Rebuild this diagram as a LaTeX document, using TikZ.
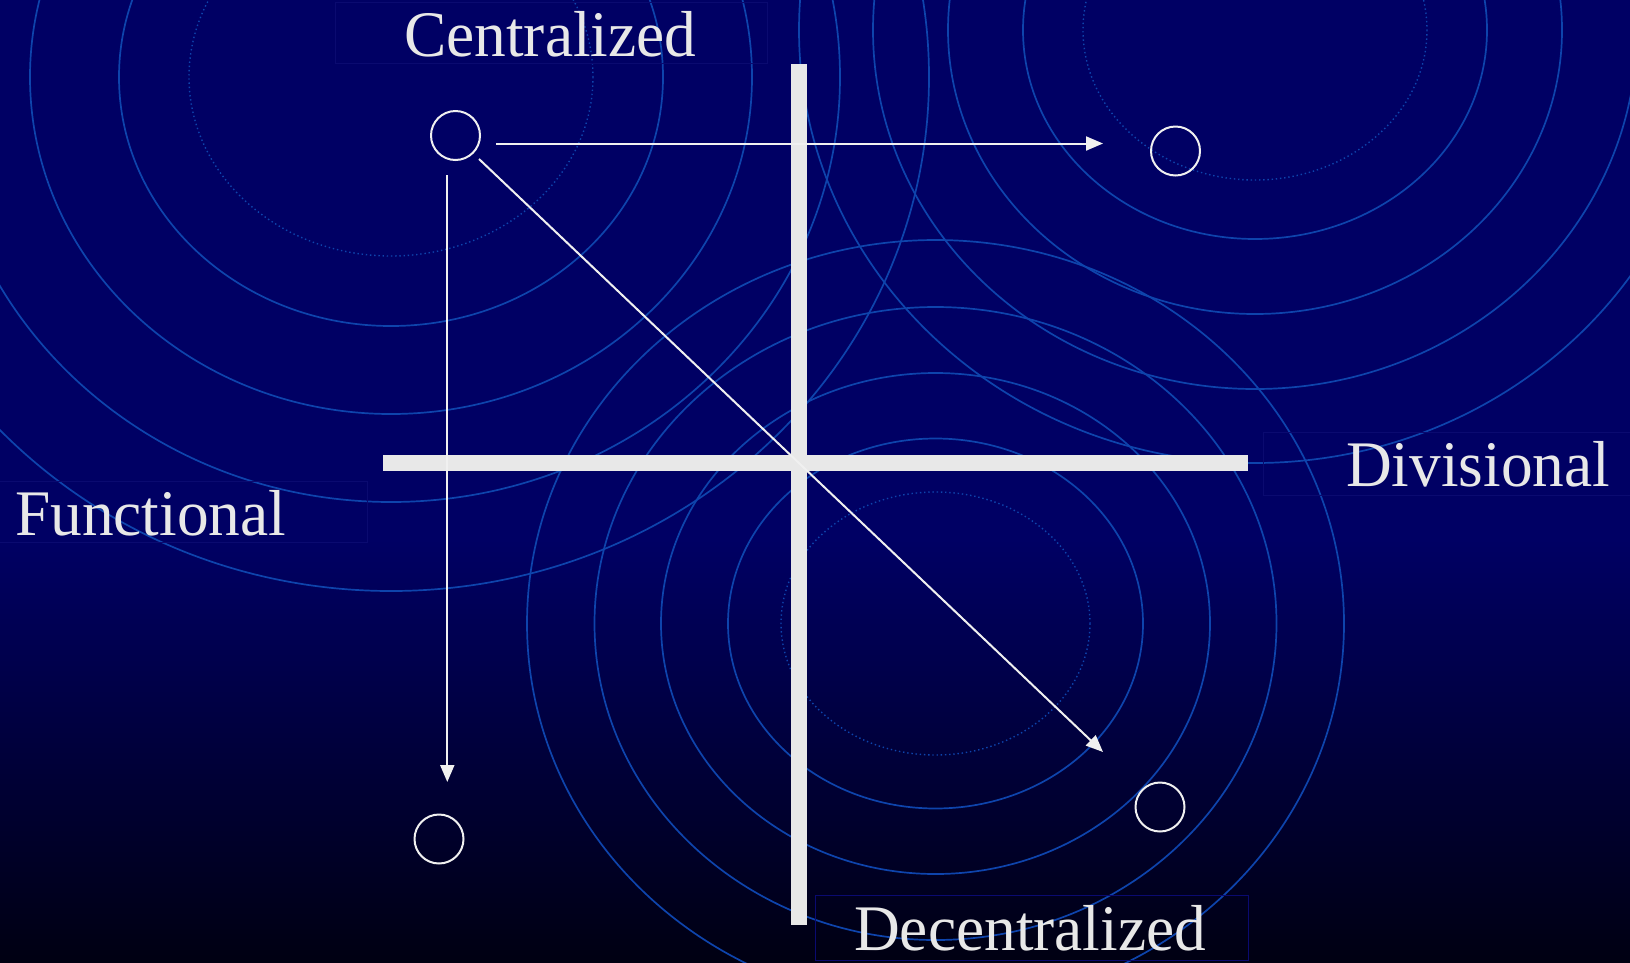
\documentclass[tikz,border=0pt]{standalone}
\usepackage{fontspec}
\setmainfont[FakeStretch=0.975]{Liberation Serif}
\usetikzlibrary{arrows.meta}
\definecolor{bgtop}{RGB}{0,0,100}
\definecolor{bgbot}{RGB}{0,0,18}
\definecolor{ringc}{RGB}{14,68,172}
\definecolor{boxline}{RGB}{10,10,112}
\definecolor{barc}{RGB}{232,232,232}
\definecolor{inkc}{RGB}{240,240,240}
\pgfdeclareverticalshading{slidebg}{100bp}{color(0bp)=(bgbot); color(25bp)=(bgbot); color(47bp)=(bgtop); color(75bp)=(bgtop); color(100bp)=(bgtop)}
\tikzset{
  ringline/.style={draw=ringc, line width=1.7pt},
  ringdot/.style={draw=ringc, line width=1.4pt, dash pattern=on 1.4pt off 2.8pt},
  boxln/.style={draw=boxline, line width=1pt},
  barfill/.style={fill=barc},
  arrowline/.style={draw=inkc, line width=2pt, -{Triangle[length=17pt,width=14pt]}},
  dotc/.style={circle, draw=inkc, line width=2pt, minimum size=49pt, inner sep=0pt},
  lbl/.style={text=barc, inner sep=0pt, anchor=base west, font=\fontsize{65}{70}\selectfont}
}
\begin{document}
\begin{tikzpicture}[x=1pt,y=-1pt]
\useasboundingbox (0,0) rectangle (1630,962);
\clip (0,0) rectangle (1630,962);
% background
\shade[shading=slidebg] (0,0) rectangle (1630,962);
% ring set 1
\draw[ringdot] (391,77) ellipse [x radius=202, y radius=179];
\draw[ringline] (391,77) ellipse [x radius=272, y radius=249];
\draw[ringline] (391,77) ellipse [x radius=361, y radius=337];
\draw[ringline] (391,77) ellipse [x radius=449, y radius=425];
\draw[ringline] (391,77) ellipse [x radius=538, y radius=514];
% ring set 2
\draw[ringdot] (1255,30) ellipse [x radius=172, y radius=150];
\draw[ringline] (1255,30) ellipse [x radius=232, y radius=209];
\draw[ringline] (1255,30) ellipse [x radius=307, y radius=284];
\draw[ringline] (1255,30) ellipse [x radius=382, y radius=359];
\draw[ringline] (1255,30) ellipse [x radius=456, y radius=433];
% ring set 3
\draw[ringdot] (935.5,623.5) ellipse [x radius=154.5, y radius=131.5];
\draw[ringline] (935.5,623.5) ellipse [x radius=207.5, y radius=185];
\draw[ringline] (935.5,623.5) ellipse [x radius=274.5, y radius=250.5];
\draw[ringline] (935.5,623.5) ellipse [x radius=341, y radius=316.5];
\draw[ringline] (935.5,623.5) ellipse [x radius=408.5, y radius=383.5];
% text boxes
\draw[boxln] (335,2) rectangle (767,63);
\draw[boxln] (-2,481) rectangle (367,542);
\draw[boxln] (1263,432) rectangle (1635,495);
\draw[boxln] (815,895) rectangle (1248,960);
% labels
\node[lbl] (tcent) at (404,56) {Centralized};
\node[lbl] (tfunc) at (15,535) {Functional};
\node[lbl] (tdiv) at (1346,486) {Divisional};
\node[lbl] (tdec) at (854,950) {Decentralized};
% cross bars
\fill[barfill] (383,455) rectangle (1248,471);
\fill[barfill] (791,64) rectangle (807,925);
% small circles
\node[dotc] (c1) at (455.5,135.5) {};
\node[dotc] (c2) at (1175.5,151) {};
\node[dotc] (c3) at (439,839) {};
\node[dotc] (c4) at (1160,807) {};
% arrow ends
\coordinate (h0) at (496,143.5);
\coordinate (h1) at (1103,143.5);
\coordinate (v0) at (447.3,175);
\coordinate (v1) at (447.3,782);
\coordinate (d0) at (479,159);
\coordinate (d1) at (1103,752);
\draw[arrowline] (h0) -- (h1);
\draw[arrowline] (v0) -- (v1);
\draw[arrowline] (d0) -- (d1);
\end{tikzpicture}
\end{document}
